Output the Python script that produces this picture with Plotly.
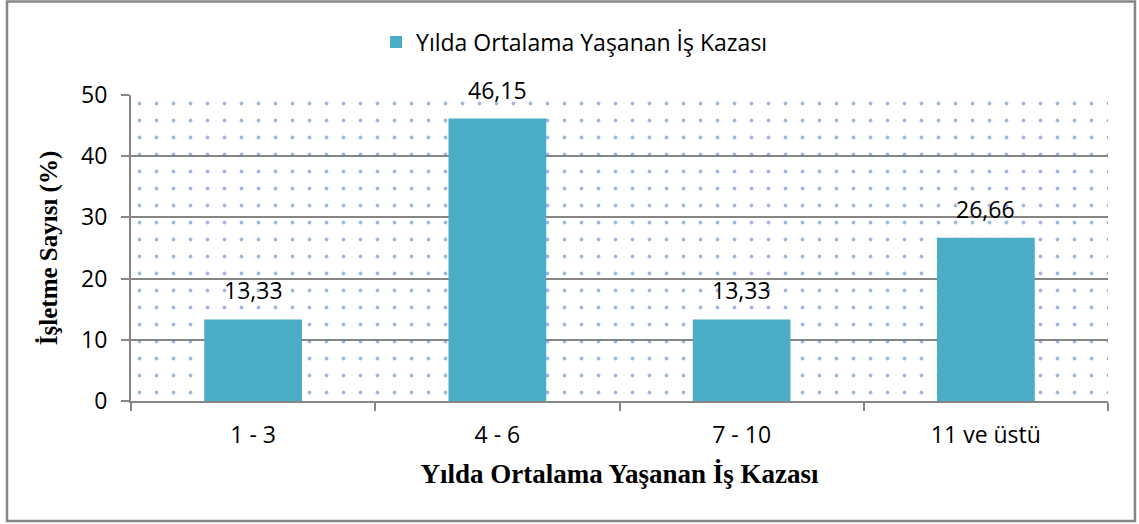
import plotly.graph_objects as go

# Data
categories = ["1 - 3", "4 - 6", "7 - 10", "11 ve üstü"]
values = [13.33, 46.15, 13.33, 26.66]
series_name = "Yılda Ortalama Yaşanan İş Kazası"
x_title = "Yılda Ortalama Yaşanan İş Kazası"
y_title = "İşletme Sayısı (%)"
y_ticks = [0, 10, 20, 30, 40, 50]

BAR = "#4BACC6"
GRID = "#868686"
DOT = "#4472C4"
FONT = "Open Sans"
SERIF = "Liberation Serif"

fig = go.Figure()

# Dotted plot-area background
fig.add_trace(go.Scatter(
    x=[0, 1, 1, 0, 0], y=[0, 0, 50, 50, 0],
    xaxis="x", yaxis="y",
    mode="none", fill="toself", fillcolor="rgba(0,0,0,0)",
    fillpattern=dict(shape=".", fgcolor=DOT, bgcolor="rgba(0,0,0,0)",
                     size=17, solidity=0.04),
    hoverinfo="skip", showlegend=False,
))

fig.add_trace(go.Bar(
    x=categories, y=values, name=series_name,
    xaxis="x2", yaxis="y",
    marker=dict(color=BAR, line=dict(width=0)),
    width=0.4,
))

# Value labels above the bars
for c, v in zip(categories, values):
    fig.add_annotation(
        x=c, y=v, xref="x2", yref="y",
        text=f"{v:.2f}".replace(".", ","),
        showarrow=False, yanchor="bottom", yshift=11,
        font=dict(family=FONT, size=23, color="#000000"),
    )

# Outer chart frame
fig.add_shape(type="rect", xref="paper", yref="paper",
              x0=-0.1269, x1=1.0276, y0=-0.392, y1=1.3056,
              line=dict(color=GRID, width=2.5), layer="below")

fig.update_layout(
    width=1139, height=524,
    margin=dict(l=131, r=31, t=95, b=123),
    paper_bgcolor="white", plot_bgcolor="white",
    bargap=0.6,
    font=dict(family=FONT, size=23, color="#000000"),
    showlegend=True,
    legend=dict(orientation="h", x=0.454, xanchor="center", y=1.173,
                yanchor="middle", font=dict(family=FONT, size=23),
                bgcolor="rgba(0,0,0,0)"),
    xaxis=dict(range=[0, 1], visible=False, fixedrange=True),
    xaxis2=dict(
        overlaying="x", side="bottom", type="category",
        range=[-0.5, 3.5],
        showline=True, linecolor=GRID, linewidth=2,
        ticks="outside", tickson="boundaries", ticklen=8,
        tickcolor=GRID, tickwidth=2,
        showgrid=False,
        ticklabelstandoff=12,
        tickfont=dict(family=FONT, size=23),
        title=dict(text=x_title, standoff=16,
                   font=dict(family=SERIF, size=27, color="#000000",
                             weight="bold")),
    ),
    yaxis=dict(
        range=[0, 50], tickvals=y_ticks,
        showline=True, linecolor=GRID, linewidth=2,
        ticks="outside", ticklen=8, tickcolor=GRID, tickwidth=2,
        showgrid=True, gridcolor=GRID, gridwidth=1.5,
        zeroline=False,
        ticklabelstandoff=9,
        tickfont=dict(family=FONT, size=23),
        title=dict(text=y_title, standoff=16,
                   font=dict(family=SERIF, size=25, color="#000000",
                             weight="bold")),
    ),
)

fig.write_html("out.html")
